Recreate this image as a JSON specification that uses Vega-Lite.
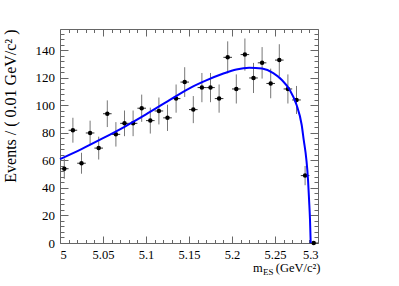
{
  "$schema": "https://vega.github.io/schema/vega-lite/v6.json",
  "width": 258,
  "height": 214,
  "autosize": {"type": "none"},
  "padding": {"left": 60, "top": 29, "right": 81, "bottom": 43},
  "background": "white",
  "config": {
    "view": {"stroke": null},
    "axis": {
      "labelFont": "Liberation Serif",
      "titleFont": "Liberation Serif",
      "domainColor": "#666",
      "tickColor": "#666",
      "labelColor": "black",
      "titleColor": "black",
      "grid": false,
      "titleFontWeight": "normal",
      "labelOverlap": false
    }
  },
  "datasets": {
    "bins": [
      {"m": 5.005, "n": 54, "lo": 46.65, "hi": 61.35, "mlo": 5.0, "mhi": 5.01},
      {"m": 5.015, "n": 82, "lo": 72.94, "hi": 91.06, "mlo": 5.01, "mhi": 5.02},
      {"m": 5.025, "n": 58, "lo": 50.38, "hi": 65.62, "mlo": 5.02, "mhi": 5.03},
      {"m": 5.035, "n": 80, "lo": 71.06, "hi": 88.94, "mlo": 5.03, "mhi": 5.04},
      {"m": 5.045, "n": 69, "lo": 60.69, "hi": 77.31, "mlo": 5.04, "mhi": 5.05},
      {"m": 5.055, "n": 94, "lo": 84.3, "hi": 103.7, "mlo": 5.05, "mhi": 5.06},
      {"m": 5.065, "n": 79, "lo": 70.11, "hi": 87.89, "mlo": 5.06, "mhi": 5.07},
      {"m": 5.075, "n": 87, "lo": 77.67, "hi": 96.33, "mlo": 5.07, "mhi": 5.08},
      {"m": 5.085, "n": 87, "lo": 77.67, "hi": 96.33, "mlo": 5.08, "mhi": 5.09},
      {"m": 5.095, "n": 98, "lo": 88.1, "hi": 107.9, "mlo": 5.09, "mhi": 5.1},
      {"m": 5.105, "n": 89, "lo": 79.57, "hi": 98.43, "mlo": 5.1, "mhi": 5.11},
      {"m": 5.115, "n": 96, "lo": 86.2, "hi": 105.8, "mlo": 5.11, "mhi": 5.12},
      {"m": 5.125, "n": 91, "lo": 81.46, "hi": 100.54, "mlo": 5.12, "mhi": 5.13},
      {"m": 5.135, "n": 105, "lo": 94.75, "hi": 115.25, "mlo": 5.13, "mhi": 5.14},
      {"m": 5.145, "n": 117, "lo": 106.18, "hi": 127.82, "mlo": 5.14, "mhi": 5.15},
      {"m": 5.155, "n": 97, "lo": 87.15, "hi": 106.85, "mlo": 5.15, "mhi": 5.16},
      {"m": 5.165, "n": 113, "lo": 102.37, "hi": 123.63, "mlo": 5.16, "mhi": 5.17},
      {"m": 5.175, "n": 113, "lo": 102.37, "hi": 123.63, "mlo": 5.17, "mhi": 5.18},
      {"m": 5.185, "n": 105, "lo": 94.75, "hi": 115.25, "mlo": 5.18, "mhi": 5.19},
      {"m": 5.195, "n": 135, "lo": 123.38, "hi": 146.62, "mlo": 5.19, "mhi": 5.2},
      {"m": 5.205, "n": 112, "lo": 101.42, "hi": 122.58, "mlo": 5.2, "mhi": 5.21},
      {"m": 5.215, "n": 137, "lo": 125.3, "hi": 148.7, "mlo": 5.21, "mhi": 5.22},
      {"m": 5.225, "n": 120, "lo": 109.05, "hi": 130.95, "mlo": 5.22, "mhi": 5.23},
      {"m": 5.235, "n": 131, "lo": 119.55, "hi": 142.45, "mlo": 5.23, "mhi": 5.24},
      {"m": 5.245, "n": 116, "lo": 105.23, "hi": 126.77, "mlo": 5.24, "mhi": 5.25},
      {"m": 5.255, "n": 133, "lo": 121.47, "hi": 144.53, "mlo": 5.25, "mhi": 5.26},
      {"m": 5.265, "n": 112, "lo": 101.42, "hi": 122.58, "mlo": 5.26, "mhi": 5.27},
      {"m": 5.275, "n": 104, "lo": 93.8, "hi": 114.2, "mlo": 5.27, "mhi": 5.28},
      {"m": 5.285, "n": 49, "lo": 42.0, "hi": 56.0, "mlo": 5.28, "mhi": 5.29},
      {"m": 5.295, "n": 0, "lo": 0, "hi": 0, "mlo": 5.29, "mhi": 5.3}
    ],
    "fit": [
      {"m": 5.0, "f": 61},
      {"m": 5.025, "f": 68.3},
      {"m": 5.05, "f": 76.2},
      {"m": 5.075, "f": 84.5},
      {"m": 5.1, "f": 93.5},
      {"m": 5.125, "f": 103},
      {"m": 5.15, "f": 112.3},
      {"m": 5.17, "f": 118.2},
      {"m": 5.19, "f": 123.2},
      {"m": 5.205, "f": 126.2},
      {"m": 5.22, "f": 127.5},
      {"m": 5.235, "f": 126.8},
      {"m": 5.248, "f": 123.5},
      {"m": 5.258, "f": 118.5},
      {"m": 5.267, "f": 111.4},
      {"m": 5.275, "f": 100.5},
      {"m": 5.281, "f": 86},
      {"m": 5.2834, "f": 75},
      {"m": 5.2865, "f": 60.5},
      {"m": 5.2884, "f": 46},
      {"m": 5.2896, "f": 31.5},
      {"m": 5.2907, "f": 17},
      {"m": 5.2915, "f": 0}
    ]
  },
  "layer": [
    {
      "data": {"name": "bins"},
      "mark": {"type": "rule", "color": "#777", "strokeWidth": 1},
      "encoding": {
        "x": {
          "field": "m", "type": "quantitative",
          "scale": {"domain": [5, 5.3], "nice": false, "zero": false},
          "axis": {
            "orient": "bottom",
            "values": [5, 5.05, 5.1, 5.15, 5.2, 5.25, 5.3],
            "format": "~g",
            "tickSize": -7, "labelPadding": 12, "labelFontSize": 12.5,
            "domain": true,
            "title": "m", "titleFontSize": 12.5, "titleAngle": 0,
            "titleX": 192.5, "titleY": 28.4, "titleAlign": "left", "titleBaseline": "alphabetic"
          }
        },
        "y": {
          "field": "lo", "type": "quantitative",
          "scale": {"domain": [0, 155.6], "nice": false},
          "axis": {
            "orient": "left",
            "values": [0, 20, 40, 60, 80, 100, 120, 140],
            "tickSize": -8, "labelPadding": 13.5, "labelFontSize": 13,
            "domain": true,
            "title": "Events / ( 0.01 GeV/c² )", "titleFontSize": 16, "titleAngle": 270,
            "titleX": -50, "titleY": 0, "titleAlign": "right", "titleBaseline": "middle"
          }
        },
        "y2": {"field": "hi"}
      }
    },
    {
      "data": {"name": "bins"},
      "mark": {"type": "rule", "color": "#333", "strokeWidth": 1},
      "encoding": {
        "x": {
          "field": "mlo", "type": "quantitative",
          "scale": {"domain": [5, 5.3], "nice": false, "zero": false},
          "axis": {
            "orient": "bottom",
            "values": [5.01, 5.02, 5.03, 5.04, 5.06, 5.07, 5.08, 5.09, 5.11, 5.12, 5.13, 5.14, 5.16, 5.17, 5.18, 5.19, 5.21, 5.22, 5.23, 5.24, 5.26, 5.27, 5.28, 5.29],
            "tickSize": -3.5, "labels": false, "domain": false,
            "title": "ES", "titleFontSize": 9, "titleAngle": 0,
            "titleX": 202.5, "titleY": 31.5, "titleAlign": "left", "titleBaseline": "alphabetic"
          }
        },
        "x2": {"field": "mhi"},
        "y": {
          "field": "n", "type": "quantitative",
          "scale": {"domain": [0, 155.6], "nice": false},
          "axis": {
            "orient": "left",
            "values": [4, 8, 12, 16, 24, 28, 32, 36, 44, 48, 52, 56, 64, 68, 72, 76, 84, 88, 92, 96, 104, 108, 112, 116, 124, 128, 132, 136, 144, 148, 152],
            "tickSize": -4, "labels": false, "domain": false, "title": null
          }
        }
      }
    },
    {
      "data": {"name": "bins"},
      "mark": {"type": "point", "shape": "circle", "filled": true, "color": "black", "size": 20, "opacity": 1},
      "encoding": {
        "x": {
          "field": "m", "type": "quantitative",
          "scale": {"domain": [5, 5.3], "nice": false, "zero": false},
          "axis": {
            "orient": "top",
            "values": [5, 5.05, 5.1, 5.15, 5.2, 5.25, 5.3],
            "tickSize": -7, "labels": false, "domain": true,
            "title": "(GeV/c²)", "titleFontSize": 12.5, "titleAngle": 0,
            "titleX": 260, "titleY": 242.4, "titleAlign": "right", "titleBaseline": "alphabetic"
          }
        },
        "y": {
          "field": "n", "type": "quantitative",
          "scale": {"domain": [0, 155.6], "nice": false},
          "axis": {
            "orient": "right",
            "values": [0, 20, 40, 60, 80, 100, 120, 140],
            "tickSize": -8, "labels": false, "domain": true, "title": null
          }
        }
      }
    },
    {
      "data": {"name": "fit"},
      "mark": {"type": "line", "color": "#0000ff", "strokeWidth": 2, "interpolate": "monotone"},
      "encoding": {
        "x": {
          "field": "m", "type": "quantitative",
          "scale": {"domain": [5, 5.3], "nice": false, "zero": false},
          "axis": {
            "orient": "top",
            "values": [5.01, 5.02, 5.03, 5.04, 5.06, 5.07, 5.08, 5.09, 5.11, 5.12, 5.13, 5.14, 5.16, 5.17, 5.18, 5.19, 5.21, 5.22, 5.23, 5.24, 5.26, 5.27, 5.28, 5.29],
            "tickSize": -3.5, "labels": false, "domain": false, "title": null
          }
        },
        "y": {
          "field": "f", "type": "quantitative",
          "scale": {"domain": [0, 155.6], "nice": false},
          "axis": {
            "orient": "right",
            "values": [4, 8, 12, 16, 24, 28, 32, 36, 44, 48, 52, 56, 64, 68, 72, 76, 84, 88, 92, 96, 104, 108, 112, 116, 124, 128, 132, 136, 144, 148, 152],
            "tickSize": -4, "labels": false, "domain": false, "title": null
          }
        }
      }
    }
  ],
  "resolve": {"axis": {"x": "independent", "y": "independent"}}
}
